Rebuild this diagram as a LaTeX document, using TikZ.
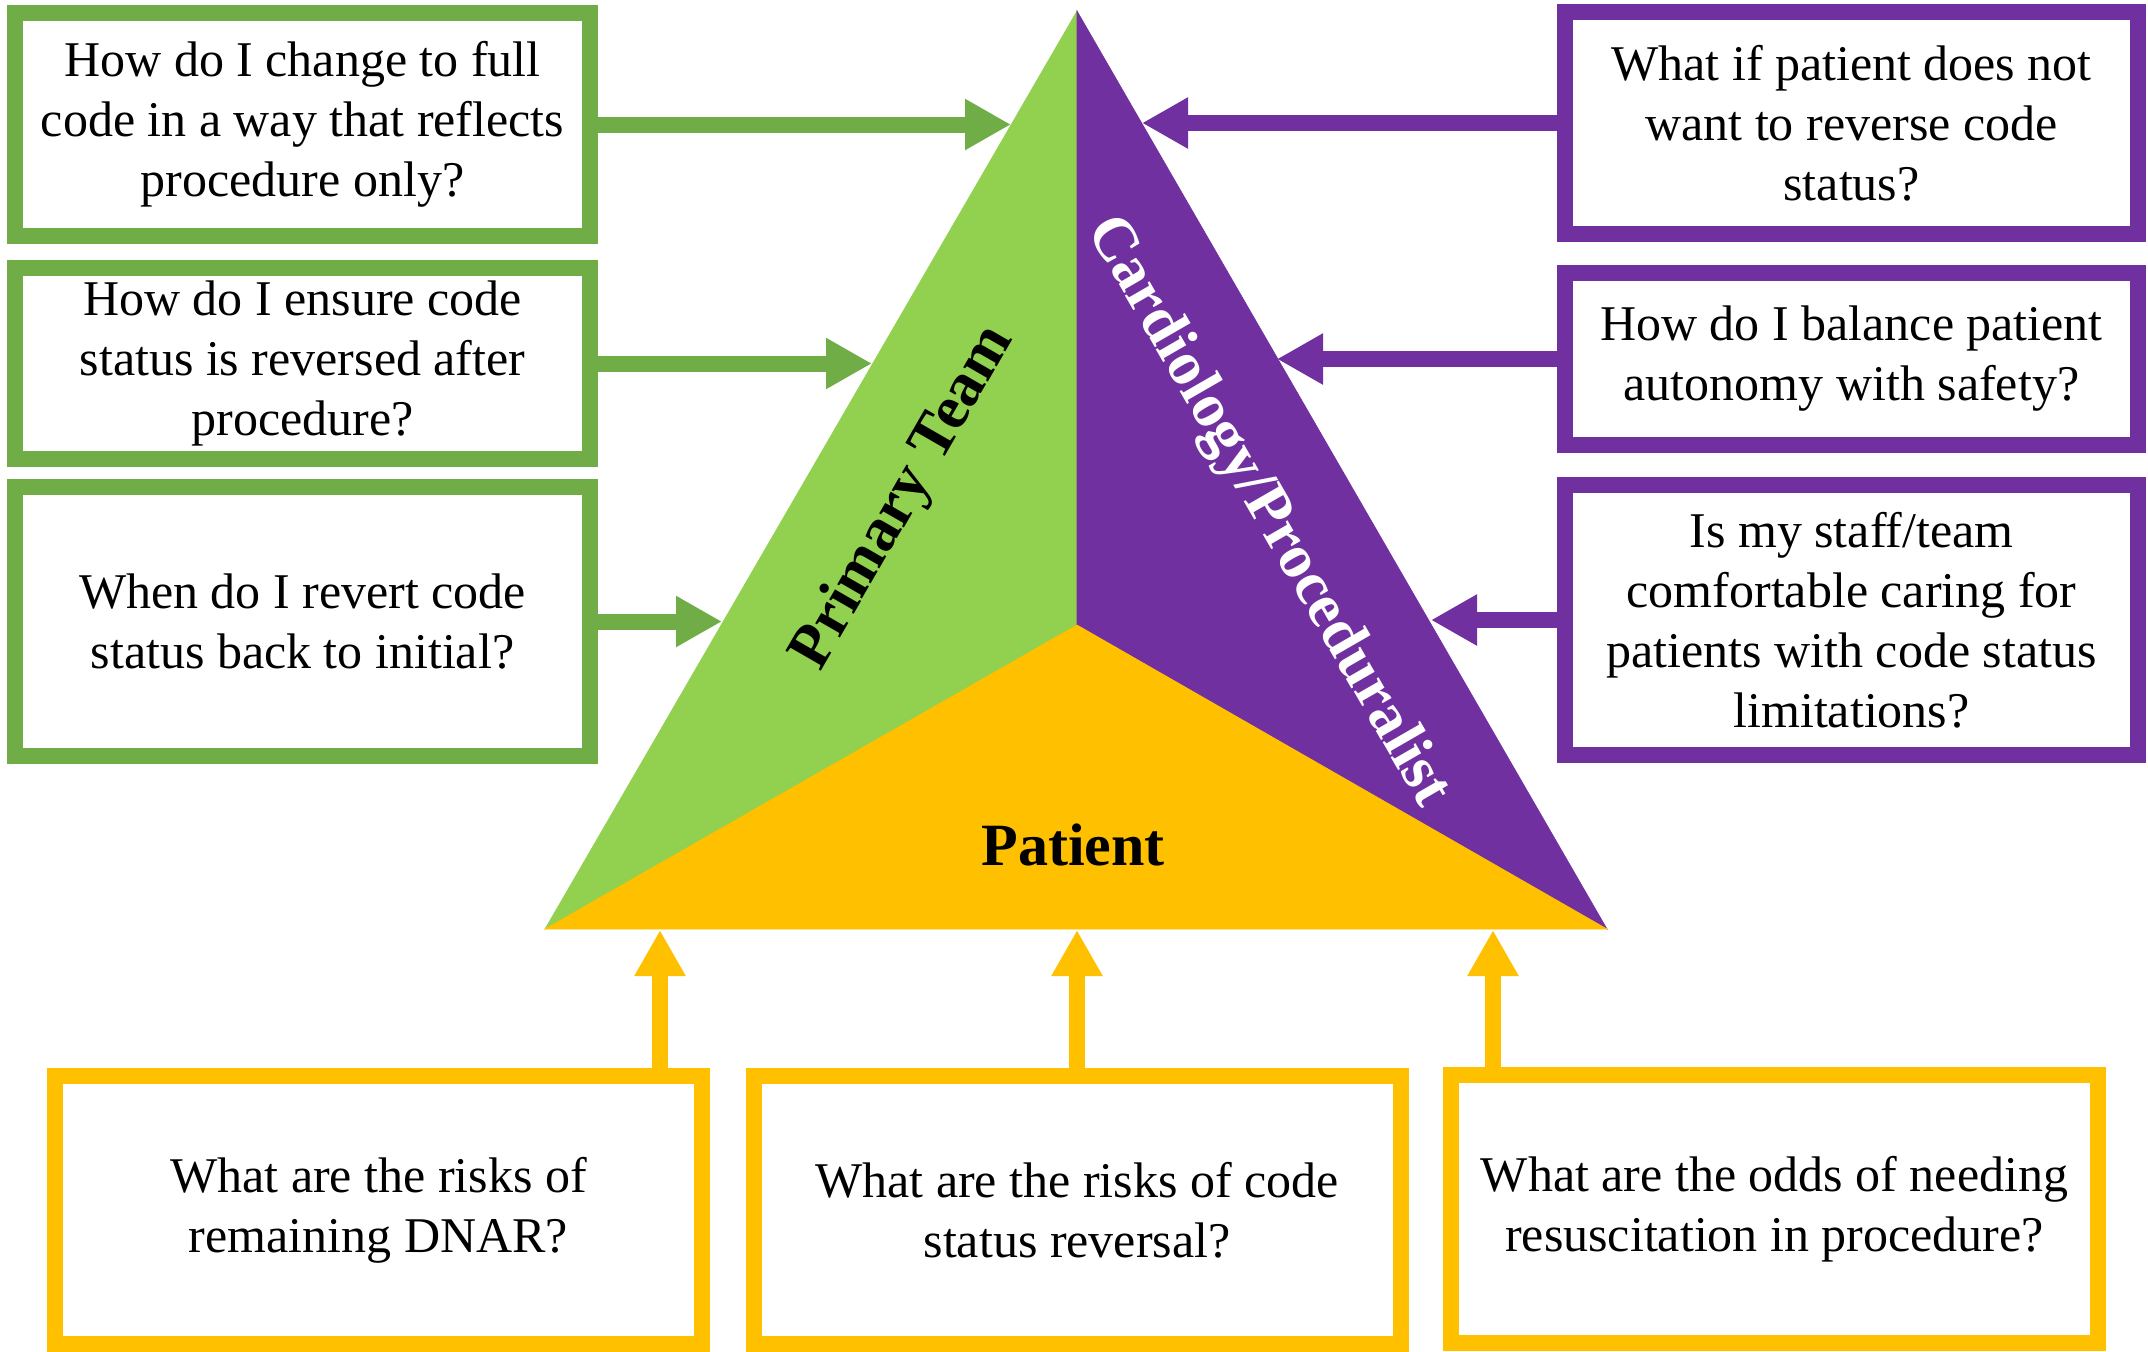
\documentclass[tikz,border=0pt]{standalone}
\usepackage{fontspec}
\setmainfont{Liberation Serif}
\usetikzlibrary{arrows.meta}

\definecolor{boxgreen}{HTML}{70AD47}
\definecolor{trigreen}{HTML}{92D050}
\definecolor{purp}{HTML}{7030A0}
\definecolor{gold}{HTML}{FFC000}

\begin{document}
\begin{tikzpicture}[
  x=0.5pt, y=-0.5pt,
  every node/.style={align=center},
  question/.style={rectangle, line width=8pt, fill=white, inner sep=0pt, font=\fontsize{25}{30}\selectfont},
  green_q/.style={question, draw=boxgreen, minimum width=287.5pt},
  purple_q/.style={question, draw=purp, minimum width=286.5pt},
  yellow_q/.style={question, draw=gold, minimum width=323.5pt, minimum height=134pt},
  team_label/.style={font=\fontsize{31}{36}\selectfont\bfseries},
  arrow/.style={line width=8pt, -{Triangle[length=23pt, width=24pt]}}
]
\useasboundingbox (0,0) rectangle (2148,1351);

% Triangle
\coordinate (apex) at (1077,11);
\coordinate (mid) at (1077,625);
\coordinate (bl) at (545,929);
\coordinate (br) at (1607,929);
\filldraw[trigreen, line width=0.3pt] (apex) -- (mid) -- (bl) -- cycle;
\filldraw[purp, line width=0.3pt] (apex) -- (br) -- (mid) -- cycle;
\filldraw[gold, line width=0.3pt] (bl) -- (mid) -- (br) -- cycle;

\node[team_label, rotate=60] (primary) at (904,498) {Primary Team};
\node[team_label, rotate=-60, text=white] (cardio) at (1267,512) {Cardiology/Proceduralist};
\node[team_label, font=\fontsize{30}{36}\selectfont\bfseries] (patient) at (1073,845) {Patient};

% Primary team questions
\node[green_q, minimum height=111.5pt] (g1) at (302.5,124.5) {How do I change to full\\code in a way that reflects\\procedure only?};
\node[green_q, minimum height=95.5pt] (g2) at (302.5,363.5) {How do I ensure code\\status is reversed after\\procedure?};
\node[green_q, minimum height=134.5pt] (g3) at (302.5,621.5) {When do I revert code\\status back to initial?};

% Cardiology questions
\node[purple_q, minimum height=111pt] (p1) at (1851.5,123) {What if patient does not\\want to reverse code\\status?};
\node[purple_q, minimum height=86pt] (p2) at (1851.5,359) {How do I balance patient\\autonomy with safety?};
\node[purple_q, minimum height=135pt] (p3) at (1851.5,620) {Is my staff/team\\comfortable caring for\\patients with code status\\limitations?};

% Patient questions
\node[yellow_q] (y1) at (378.5,1210) {What are the risks of\\remaining DNAR?};
\node[yellow_q] (y2) at (1077,1210) {What are the risks of code\\status reversal?};
\node[yellow_q] (y3) at (1774.5,1209) {What are the odds of needing\\resuscitation in procedure?};

% Arrow tips on the triangle
\coordinate (tg1) at (1011,124.5);
\coordinate (tg2) at (872,363.5);
\coordinate (tg3) at (722,621.5);
\coordinate (tp1) at (1142,123);
\coordinate (tp2) at (1277,359);
\coordinate (tp3) at (1431,620);
\coordinate (ty1) at (660,930);
\coordinate (ty2) at (1077,930);
\coordinate (ty3) at (1493,930);

% Connections
\draw[arrow, boxgreen] (g1) -- (tg1);
\draw[arrow, boxgreen] (g2) -- (tg2);
\draw[arrow, boxgreen] (g3) -- (tg3);
\draw[arrow, purp] (p1) -- (tp1);
\draw[arrow, purp] (p2) -- (tp2);
\draw[arrow, purp] (p3) -- (tp3);
\draw[arrow, gold] (y1.north -| ty1) -- (ty1);
\draw[arrow, gold] (y2) -- (ty2);
\draw[arrow, gold] (y3.north -| ty3) -- (ty3);

\end{tikzpicture}
\end{document}
